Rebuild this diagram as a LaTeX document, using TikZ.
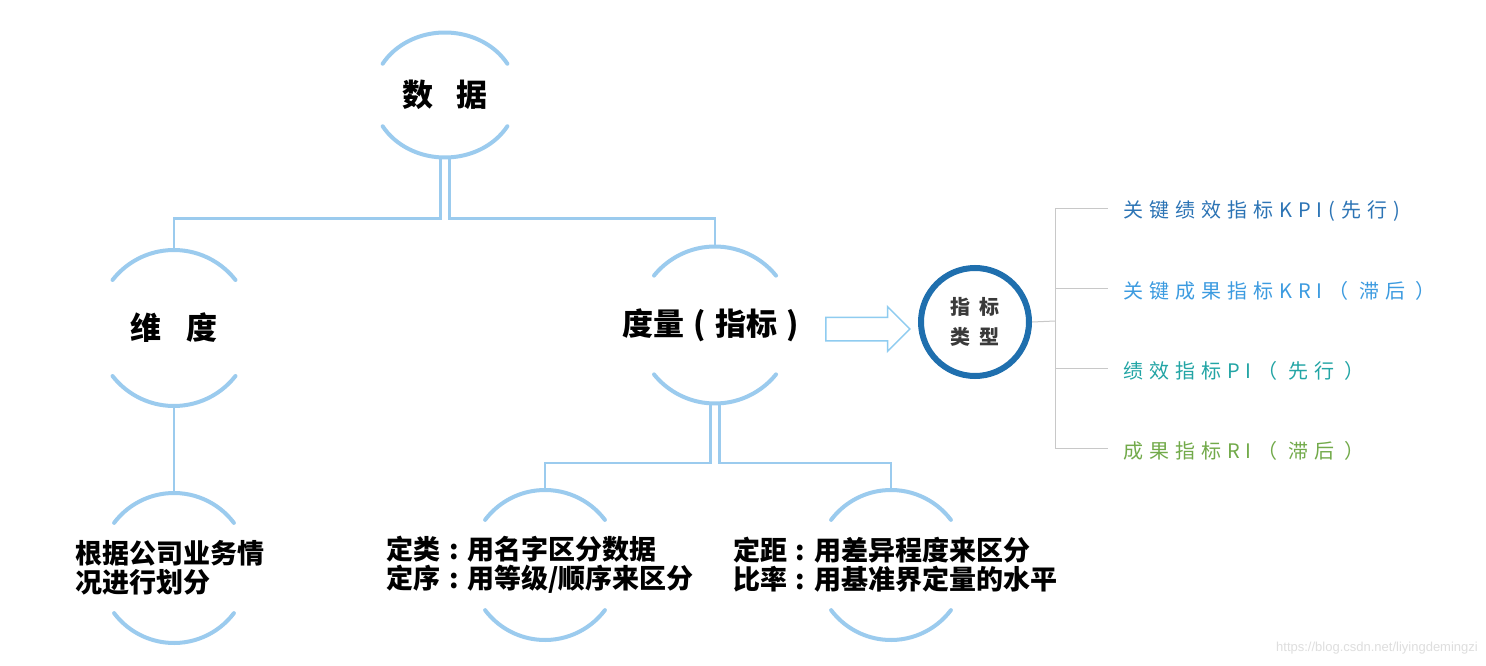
\documentclass[tikz,border=0pt]{standalone}
\usepackage{fontspec}
\newfontfamily\cjk{Noto Sans CJK SC}
\newfontfamily\cjkspaced{Noto Sans CJK SC}[LetterSpace=30]
\newfontfamily\urlfont{Liberation Sans}
\usetikzlibrary{shapes.geometric,shapes.arrows,positioning}

\definecolor{arcblue}{HTML}{9BCBEE}
\definecolor{arrowblue}{HTML}{8FCCF0}
\definecolor{typeblue}{HTML}{1F6FAE}
\definecolor{typetext}{HTML}{3A3A3A}
\definecolor{kpiblue}{HTML}{2C74B5}
\definecolor{kriblue}{HTML}{3C9BE0}
\definecolor{piteal}{HTML}{23A5A5}
\definecolor{rigreen}{HTML}{72AA4A}
\definecolor{branchgray}{HTML}{C8C8C8}

% open ring: an upper and a lower arc round a node
\newcommand{\ringarcs}[4]{%
  \draw[arcline] ([shift={(#4:#2 and #3)}]#1.center) arc[start angle=#4,end angle=180-#4,x radius=#2,y radius=#3];
  \draw[arcline] ([shift={(-#4:#2 and #3)}]#1.center) arc[start angle=-#4,end angle=-180+#4,x radius=#2,y radius=#3];
}
% centred punctuation, one em wide
\newcommand{\zcolon}{\makebox[1em][c]{:}}
\newcommand{\zlparen}{\makebox[1em][c]{(}}
\newcommand{\zrparen}{\makebox[1em][c]{)}}

\tikzset{
  ring/.style={ellipse,inner sep=0pt,outer sep=0pt},
  arcline/.style={draw=arcblue,line width=4pt,line cap=round},
  linkline/.style={draw=arcblue,line width=2.5pt},
  branchline/.style={draw=branchgray,line width=1pt},
  bigtext/.style={font=\cjk\bfseries\fontsize{31}{31}\selectfont},
  desctext/.style={font=\cjk\bfseries\fontsize{27}{29}\selectfont,align=left},
  listtext/.style={font=\cjkspaced\fontsize{20}{20}\selectfont,anchor=west,inner xsep=15pt},
}

\begin{document}
\begin{tikzpicture}[x=1pt,y=1pt]
\fill[white] (0,0) rectangle (1486,-666);
\useasboundingbox (0,0) rectangle (1486,-666);
% rings
\node[ring,minimum width=144pt,minimum height=125pt,label={[bigtext]center:数\hspace{24pt}据}] (data) at (445,-95) {};
\node[ring,minimum size=156pt,label={[bigtext]center:维\hspace{25pt}度}] (dim) at (174,-328) {};
\node[ring,minimum size=157pt,label={[bigtext]center:度量\zlparen 指标\zrparen}] (measure) at (715,-325) {};
\node[ring,minimum size=150pt,label={[desctext,xshift=-4pt]center:根据公司业务情\\况进行划分}] (basis) at (174,-568) {};
\node[ring,minimum size=150pt,label={[desctext,xshift=-5pt]center:定类\zcolon 用名字区分数据\\定序\zcolon 用等级/顺序来区分}] (nominal) at (545,-565) {};
\node[ring,minimum size=150pt,label={[desctext,xshift=4pt]center:定距\zcolon 用差异程度来区分\\比率\zcolon 用基准界定量的水平}] (interval) at (891,-565) {};
\ringarcs{data}{72pt}{62.5pt}{30}
\ringarcs{dim}{78pt}{78pt}{38}
\ringarcs{measure}{78.5pt}{78.5pt}{39}
\ringarcs{basis}{75pt}{75pt}{37}
\ringarcs{nominal}{75pt}{75pt}{37}
\ringarcs{interval}{75pt}{75pt}{37}
% tree links
\draw[linkline] ([xshift=-4.5pt]data.south) -- ++(0,-61) -| (dim.north);
\draw[linkline] ([xshift=4.5pt]data.south) -- ++(0,-61) -| (measure.north);
\draw[linkline] (dim.south) -- (basis.north);
\draw[linkline] ([xshift=-4.5pt]measure.south) -- ++(0,-59.5) -| (nominal.north);
\draw[linkline] ([xshift=4.5pt]measure.south) -- ++(0,-59.5) -| (interval.north);
% index types
\node[single arrow,draw=arrowblue,line width=1.5pt,minimum height=84pt,inner xsep=0pt,inner ysep=11pt,single arrow head extend=10.5pt,single arrow head indent=0pt] (toarrow) at (862,-329) {};
\node[circle,draw=typeblue,line width=6pt,minimum size=108pt,inner sep=0pt,font=\cjk\bfseries\fontsize{20}{30}\selectfont,text=typetext,align=center] (type) at (975,-322) {指\hspace{9pt}标\\类\hspace{9pt}型};
\coordinate (hub) at (1055,-321);
\node[listtext,text=kpiblue] (kpi) at (1108,-211) {关键绩效指标KPI(先行)};
\node[listtext,text=kriblue] (kri) at (1108,-291) {关键成果指标KRI（ 滞后 ）};
\node[listtext,text=piteal] (pi) at (1108,-371) {绩效指标PI（ 先行 ）};
\node[listtext,text=rigreen] (ri) at (1108,-451) {成果指标RI（ 滞后 ）};
\draw[branchline] (type.east) -- (hub);
\draw[branchline] (hub) |- ([yshift=3pt]kpi.west);
\draw[branchline] (hub) |- ([yshift=3pt]kri.west);
\draw[branchline] (hub) |- ([yshift=3pt]pi.west);
\draw[branchline] (hub) |- ([yshift=3pt]ri.west);
\node[font=\urlfont\fontsize{13}{13}\selectfont,text=black!13,anchor=east,inner sep=0pt] (mark) at (1478,-648) {https://blog.csdn.net/liyingdemingzi};
\end{tikzpicture}
\end{document}
